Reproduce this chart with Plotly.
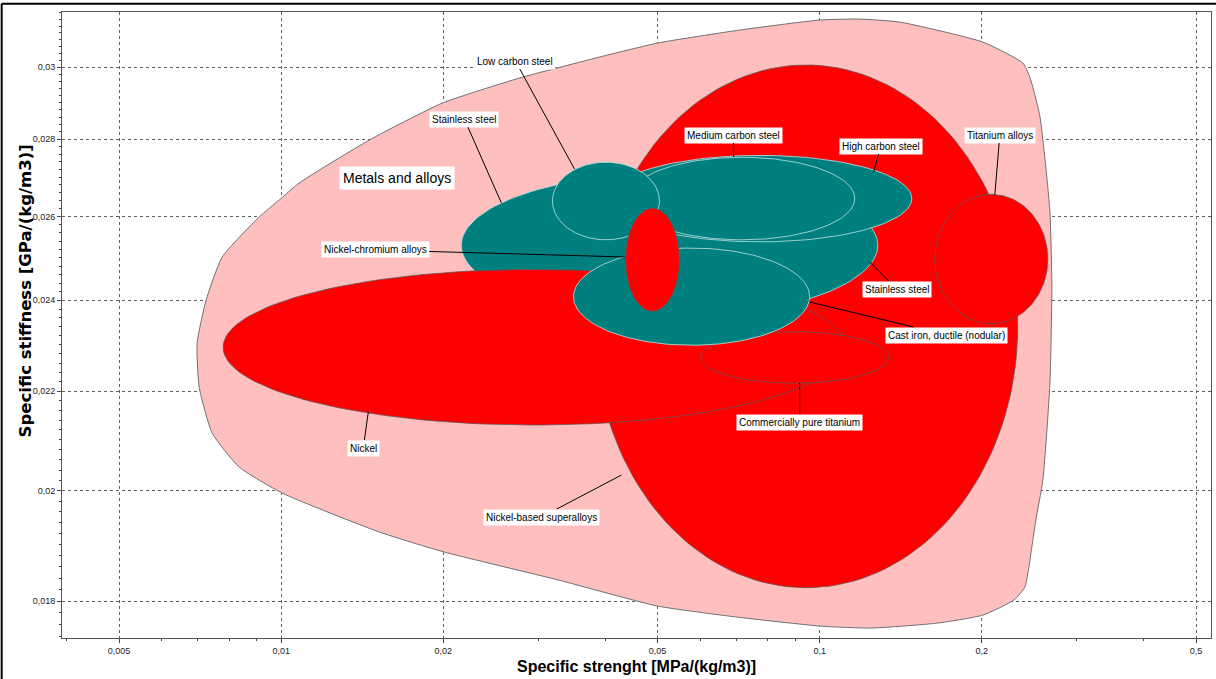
import numpy as np
import plotly.graph_objects as go

# ---------------- data ----------------
# Property ranges (min/max) of each material family bubble
materials = ["Nickel-based superalloys", "Stainless steel", "High carbon steel",
             "Medium carbon steel", "Low carbon steel", "Nickel",
             "Commercially pure titanium", "Cast iron, ductile (nodular)",
             "Nickel-chromium alloys", "Titanium alloys"]
strength_min = [0.0382, 0.0216, 0.0404, 0.0442, 0.0319, 0.0078, 0.0601, 0.0349, 0.0436, 0.1636]
strength_max = [0.2333, 0.1282, 0.1483, 0.1162, 0.0504, 0.1118, 0.1343, 0.0958, 0.0549, 0.2653]
stiffness_min = [0.01823, 0.02361, 0.02538, 0.02543, 0.02543, 0.02130, 0.02217, 0.02299, 0.02375, 0.02347]
stiffness_max = [0.03006, 0.02710, 0.02757, 0.02752, 0.02739, 0.02472, 0.02329, 0.02523, 0.02621, 0.02656]
family = ["red", "teal", "teal", "teal", "teal", "red", "red", "teal", "red", "red"]

# Envelope of the "Metals and alloys" family
env_x = [0.00698, 0.007255, 0.00777, 0.009102, 0.009915, 0.010801, 0.014575, 0.019924,
         0.027696, 0.039005, 0.050013, 0.071021, 0.1, 0.11867, 0.14085, 0.20095, 0.23843,
         0.24568, 0.25641, 0.26764, 0.26994, 0.26764, 0.25973, 0.25205, 0.24779, 0.24048,
         0.22941, 0.20095, 0.16571, 0.1244, 0.10043, 0.070114, 0.050013, 0.032727,
         0.020095, 0.01521, 0.010043, 0.008354, 0.007443, 0.007041]
env_y = [0.02304, 0.024007, 0.025016, 0.025992, 0.026418, 0.026851, 0.027977, 0.028985,
         0.029686, 0.030288, 0.030697, 0.031081, 0.03138, 0.03141, 0.03132, 0.030726, 0.030115,
         0.029714, 0.028626, 0.026142, 0.024284, 0.022151, 0.020208, 0.01945, 0.018954, 0.018242,
         0.018016, 0.017759, 0.017624, 0.01754, 0.017573, 0.017726, 0.017913, 0.018365,
         0.018863, 0.019228, 0.019958, 0.020461, 0.021137, 0.022088]

# Labels: text, label position, anchor point on the bubble
label_text = ["Low carbon steel", "Stainless steel", "Medium carbon steel", "High carbon steel",
              "Titanium alloys", "Nickel-chromium alloys", "Stainless steel",
              "Cast iron, ductile (nodular)", "Commercially pure titanium", "Nickel",
              "Nickel-based superalloys"]
label_x = [0.027226, 0.021887, 0.069221, 0.12983, 0.21607, 0.014952, 0.13905, 0.17222, 0.091798, 0.014204, 0.030427]
label_y = [0.030173, 0.028544, 0.028112, 0.027817, 0.028112, 0.025184, 0.024261, 0.023216, 0.021361, 0.020836, 0.019505]
anchor_x = [0.035049, 0.02564, 0.069221, 0.126, 0.2115, 0.043603, 0.12385, 0.095814, 0.091798, 0.014512, 0.042844]
anchor_y = [0.027213, 0.026342, 0.027526, 0.027135, 0.026545, 0.025016, 0.024897, 0.023961, 0.022173, 0.021566, 0.020305]

family_label = "Metals and alloys"
family_label_x = 0.01643
family_label_y = 0.02698

x_ticks = [0.005, 0.01, 0.02, 0.05, 0.1, 0.2, 0.5]
x_ticktext = ["0,005", "0,01", "0,02", "0,05", "0,1", "0,2", "0,5"]
y_ticks = [0.018, 0.02, 0.022, 0.024, 0.026, 0.028, 0.03]
y_ticktext = ["0,018", "0,02", "0,022", "0,024", "0,026", "0,028", "0,03"]

# ---------------- style ----------------
FILL = {"red": "#FF0000", "teal": "#007F7F"}
EDGE = {"red": "rgba(90,90,90,0.75)", "teal": "rgba(170,215,215,0.9)"}


def ellipse(x0, x1, y0, y1, n=160):
    lx0, lx1, ly0, ly1 = np.log10([x0, x1, y0, y1])
    cx, rx = (lx0 + lx1) / 2, (lx1 - lx0) / 2
    cy, ry = (ly0 + ly1) / 2, (ly1 - ly0) / 2
    t = np.linspace(0, 2 * np.pi, n)
    return 10 ** (cx + rx * np.cos(t)), 10 ** (cy + ry * np.sin(t))


fig = go.Figure()

fig.add_trace(go.Scatter(
    x=env_x + env_x[:1], y=env_y + env_y[:1], mode="lines", fill="toself",
    fillcolor="#FFBFBF", line=dict(color="#707070", width=1, shape="spline", smoothing=0.5),
    hoverinfo="skip", showlegend=False))

for name, a, b, c, d, f in zip(materials, strength_min, strength_max,
                                stiffness_min, stiffness_max, family):
    ex, ey = ellipse(a, b, c, d)
    fig.add_trace(go.Scatter(
        x=ex, y=ey, mode="lines", fill="toself", fillcolor=FILL[f],
        line=dict(color=EDGE[f], width=1), name=name,
        hoverinfo="name", showlegend=False))

annotations = []
for t, lx, ly, axx, ayy in zip(label_text, label_x, label_y, anchor_x, anchor_y):
    annotations.append(dict(
        x=np.log10(axx), y=np.log10(ayy), ax=np.log10(lx), ay=np.log10(ly),
        xref="x", yref="y", axref="x", ayref="y", text=t, showarrow=True,
        arrowhead=0, arrowwidth=1, arrowcolor="black", standoff=0,
        bgcolor="white", borderpad=2, font=dict(family="Liberation Sans, Arial", size=10, color="black")))

annotations.append(dict(
    x=np.log10(family_label_x), y=np.log10(family_label_y), xref="x", yref="y",
    text=family_label, showarrow=False, bgcolor="white", borderpad=3,
    font=dict(family="Liberation Sans, Arial", size=14, color="black")))

annotations.append(dict(
    x=-0.0315, y=0.555, xref="paper", yref="paper", xanchor="center", yanchor="middle",
    text="<b>Specific stiffness [GPa/(kg/m3)]</b>",
    textangle=-90, showarrow=False, font=dict(family="DejaVu Sans, Verdana", size=16.5, color="black")))

annotations.append(dict(
    x=0.5, y=-0.029, xref="paper", yref="paper", yanchor="top",
    text="<b>Specific strenght [MPa/(kg/m3)]</b>", showarrow=False,
    font=dict(family="Liberation Sans Narrow, Liberation Sans, Arial", size=16, color="black")))

y_minor = [v for v in np.round(np.arange(0.0174, 0.0316, 0.0002), 4) if v not in y_ticks]
x_minor = [m * 10.0 ** e for e in (-3, -2, -1) for m in (2, 3, 4, 5, 6, 7, 8, 9)]
x_minor = [v for v in x_minor if 0.0039 < v < 0.53 and round(v, 5) not in x_ticks]

grid = dict(showgrid=True, gridcolor="#606060", gridwidth=1, griddash="3px,3px")

fig.update_layout(
    width=1216, height=679,
    margin=dict(l=62, r=5, t=12, b=41),
    paper_bgcolor="white", plot_bgcolor="white",
    annotations=annotations,
    shapes=[
        dict(type="line", xref="paper", yref="paper", x0=-0.0525, x1=-0.0525, y0=-0.08, y1=1.013,
             line=dict(color="black", width=2)),
        dict(type="line", xref="paper", yref="paper", x0=-0.0525, x1=1.01, y0=1.013, y1=1.013,
             line=dict(color="black", width=2)),
    ],
    xaxis=dict(type="log", range=[-2.4071, -0.2732], tickvals=x_ticks, ticktext=x_ticktext,
               ticks="outside", ticklen=4, tickcolor="#444", showline=True, linecolor="#555",
               mirror=True, zeroline=False,
               tickfont=dict(family="Liberation Sans Narrow, Liberation Sans, Arial", size=9, color="#222"),
               minor=dict(tickvals=x_minor, ticks="outside", ticklen=2, tickcolor="#444", showgrid=False),
               **grid),
    yaxis=dict(type="log", range=[-1.7601, -1.5000], tickvals=y_ticks, ticktext=y_ticktext,
               ticks="outside", ticklen=4, tickcolor="#444", showline=True, linecolor="#555",
               mirror=True, zeroline=False,
               tickfont=dict(family="Liberation Sans, Arial", size=9, color="#222"),
               minor=dict(tickvals=y_minor, ticks="outside", ticklen=2, tickcolor="#444", showgrid=False),
               **grid),
)

fig.write_html("out.html", config={"displayModeBar": False},
               post_script="document.body.style.margin='0';document.body.style.overflow='hidden';")
